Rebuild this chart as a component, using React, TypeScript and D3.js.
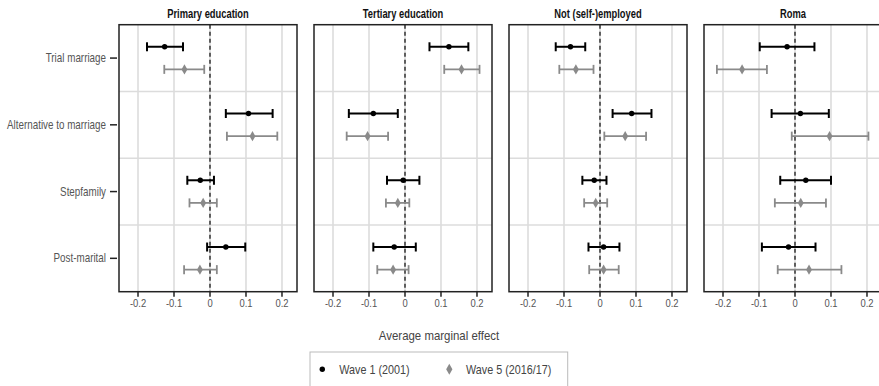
import React from "react";
import * as d3 from "d3";

const panels = ["Primary education", "Tertiary education", "Not (self-)employed", "Roma"];
const categories = ["Trial marriage", "Alternative to marriage", "Stepfamily", "Post-marital"];
const waves = ["Wave 1 (2001)", "Wave 5 (2016/17)"];
const xTicks = [-0.2, -0.1, 0, 0.1, 0.2];
const xTickLabels = ["-0.2", "-0.1", "0", "0.1", "0.2"];

// [estimate, lower, upper] per category, per panel
const wave1 = [
  [[-0.126, -0.175, -0.075], [0.107, 0.044, 0.174], [-0.027, -0.063, 0.011], [0.044, -0.008, 0.098]],
  [[0.122, 0.068, 0.176], [-0.088, -0.156, -0.02], [-0.005, -0.05, 0.04], [-0.03, -0.088, 0.03]],
  [[-0.082, -0.123, -0.041], [0.088, 0.035, 0.143], [-0.016, -0.049, 0.018], [0.01, -0.032, 0.054]],
  [[-0.022, -0.098, 0.054], [0.015, -0.065, 0.094], [0.03, -0.041, 0.1], [-0.018, -0.092, 0.057]],
];
const wave5 = [
  [[-0.071, -0.127, -0.016], [0.118, 0.047, 0.187], [-0.019, -0.057, 0.019], [-0.028, -0.072, 0.019]],
  [[0.157, 0.109, 0.207], [-0.104, -0.162, -0.047], [-0.02, -0.053, 0.012], [-0.033, -0.077, 0.01]],
  [[-0.067, -0.113, -0.018], [0.07, 0.012, 0.128], [-0.012, -0.044, 0.02], [0.01, -0.03, 0.052]],
  [[-0.147, -0.217, -0.078], [0.096, -0.009, 0.204], [0.016, -0.056, 0.086], [0.039, -0.048, 0.129]],
];
const seriesData = [wave1, wave5];
const seriesColors = ["#000000", "#8a8a8a"];

const FONT = "'Liberation Sans', Arial, sans-serif";

function T(props: {
  x: number; y: number; sx?: number; size: number; anchor?: string; weight?: string; fill: string; children: React.ReactNode;
}) {
  const { x, y, sx = 0.82, size, anchor = "start", weight = "normal", fill, children } = props;
  return (
    <text transform={`translate(${x},${y}) scale(${sx},1)`} textAnchor={anchor as any} fontSize={size} fontWeight={weight} fill={fill}>
      {children}
    </text>
  );
}

export default function App() {
  const W = 879, H = 386;
  const top = 24.7, bottom = 291.7;
  const px = d3.scaleBand<string>().domain(panels).range([119, 882]).paddingInner(17 / 195).paddingOuter(0);
  const pw = px.bandwidth();
  const x = d3.scaleLinear().domain([-0.2528, 0.2417]).range([0, pw]);
  const y = d3.scaleBand<string>().domain(categories).range([top, bottom]);
  const dodge = d3.scalePoint<string>().domain(waves).range([-11.3, 11.3]);
  const rowBounds = categories.slice(1).map((c) => y(c)!);
  const diamond = d3.symbol().type(d3.symbolDiamond).size(30)()!;
  const diamondLegend = d3.symbol().type(d3.symbolDiamond).size(34)()!;

  return (
    <svg width={W} height={H} style={{ position: "absolute", left: 0, top: 0, background: "#fff" }} fontFamily={FONT}>
      {panels.map((p, pi) => {
        const left = px(p)!;
        return (
          <g key={p} transform={`translate(${left},0)`}>
            <T x={pw / 2} y={18} sx={0.78} anchor="middle" weight="bold" size={12} fill="#111">{p}</T>
            {xTicks.map((t) => (
              <line key={t} x1={x(t)} x2={x(t)} y1={top} y2={bottom} stroke="#dcdcdc" strokeWidth={1.6} />
            ))}
            {rowBounds.map((b) => (
              <line key={b} x1={0} x2={pw} y1={b} y2={b} stroke="#dcdcdc" strokeWidth={1.6} />
            ))}
            <line x1={x(0)} x2={x(0)} y1={top} y2={bottom} stroke="#333" strokeWidth={1.5} strokeDasharray="4,3" />
            {seriesData.map((series, si) =>
              categories.map((c, ci) => {
                const [est, lo, hi] = series[pi][ci];
                const cy = y(c)! + y.bandwidth() / 2 + dodge(waves[si])!;
                const col = seriesColors[si];
                const sw = si === 0 ? 2 : 1.8;
                return (
                  <g key={`${si}-${c}`}>
                    <line x1={x(lo)} x2={x(hi)} y1={cy} y2={cy} stroke={col} strokeWidth={sw} />
                    <line x1={x(lo)} x2={x(lo)} y1={cy - 4.5} y2={cy + 4.5} stroke={col} strokeWidth={sw} />
                    <line x1={x(hi)} x2={x(hi)} y1={cy - 4.5} y2={cy + 4.5} stroke={col} strokeWidth={sw} />
                    {si === 0 ? (
                      <circle cx={x(est)} cy={cy} r={2.7} fill={col} />
                    ) : (
                      <path d={diamond} transform={`translate(${x(est)},${cy})`} fill={col} />
                    )}
                  </g>
                );
              })
            )}
            <rect x={0} y={top} width={pw} height={bottom - top} fill="none" stroke="#222" strokeWidth={1.5} />
            {xTicks.map((t, ti) => (
              <g key={`t${t}`}>
                <line x1={x(t)} x2={x(t)} y1={bottom} y2={bottom + 5} stroke="#222" strokeWidth={1.5} />
                <T x={x(t)} y={307} anchor="middle" size={11.5} fill="#555">{xTickLabels[ti]}</T>
              </g>
            ))}
            {pi === 0 &&
              categories.map((c) => {
                const cy = y(c)! + y.bandwidth() / 2;
                return (
                  <g key={`c${c}`}>
                    <line x1={-9} x2={-2} y1={cy} y2={cy} stroke="#222" strokeWidth={1.5} />
                    <T x={-13} y={cy + 4} anchor="end" size={12} fill="#555">{c}</T>
                  </g>
                );
              })}
          </g>
        );
      })}
      <T x={439} y={340} sx={0.88} anchor="middle" size={13} fill="#444">Average marginal effect</T>
      <rect x={310} y={352} width={257.7} height={40} fill="none" stroke="#bbb" strokeWidth={1} />
      <circle cx={322.3} cy={369.3} r={2.7} fill={seriesColors[0]} />
      <T x={339.3} y={374} sx={0.83} size={13} fill="#444">{waves[0]}</T>
      <path d={diamondLegend} transform="translate(449.3,369.3)" fill={seriesColors[1]} />
      <T x={466} y={374} sx={0.83} size={13} fill="#444">{waves[1]}</T>
    </svg>
  );
}
